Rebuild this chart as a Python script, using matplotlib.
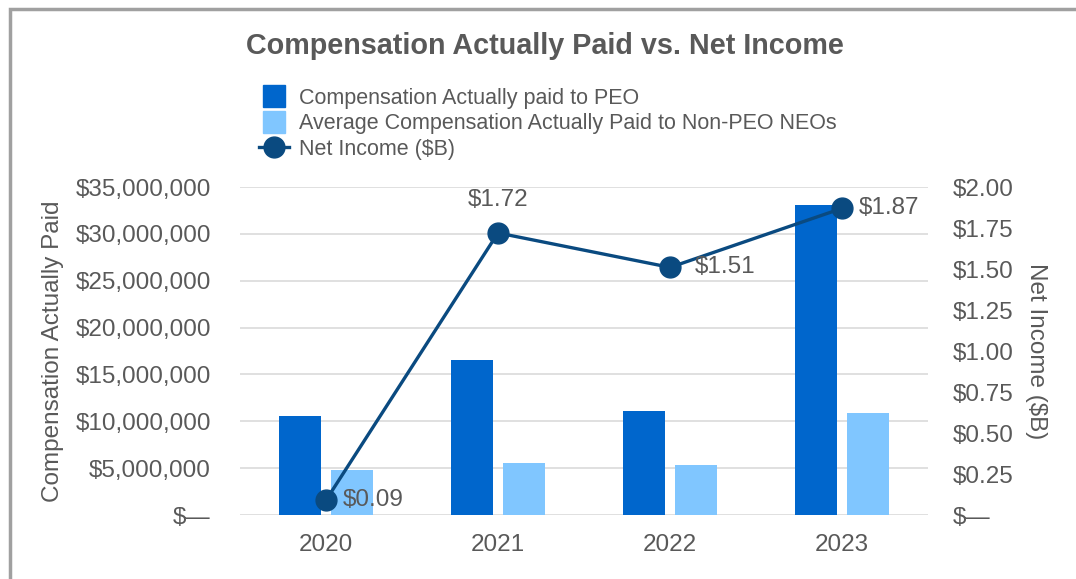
import matplotlib.pyplot as plt
import matplotlib.ticker as mticker
import numpy as np
from matplotlib.lines import Line2D
from matplotlib.patches import Rectangle

years = ['2020', '2021', '2022', '2023']
peo_cap = [10560000, 16500000, 11130000, 33100000]
neo_cap = [4800000, 5580000, 5340000, 10900000]
net_income = [0.09, 1.72, 1.51, 1.87]
net_labels = ['$0.09', '$1.72', '$1.51', '$1.87']

plt.rcParams['font.family'] = ['Liberation Sans', 'DejaVu Sans']
grey = '#595959'
c_peo = '#0066CC'
c_neo = '#80C6FF'
c_line = '#0A4A80'
fs = 17.5

fig = plt.figure(figsize=(10.76, 5.79), dpi=100)
ax = fig.add_axes([0.223, 0.1105, 0.6395, 0.5665])
ax2 = ax.twinx()

x = np.arange(len(years))
w = 0.244
ax.bar(x - 0.151, peo_cap, w, color=c_peo, zorder=2)
ax.bar(x + 0.151, neo_cap, w, color=c_neo, zorder=2)
ax.set_xlim(-0.5, 3.5)
ax.set_ylim(0, 35000000)
ax.set_yticks(np.arange(0, 35000001, 5000000))
ax.yaxis.set_major_formatter(mticker.FuncFormatter(
    lambda v, p: '$—' if v == 0 else f'${v:,.0f}'))
ax.grid(axis='y', color='#E0E0E0', lw=1.4, zorder=0)
ax.set_xticks(x)
ax.set_xticklabels(years)

ax2.plot(x, net_income, color=c_line, lw=2.4, marker='o', ms=15, zorder=3)
ax2.set_ylim(0, 2.0)
ax2.set_yticks(np.arange(0, 2.01, 0.25))
ax2.yaxis.set_major_formatter(mticker.FuncFormatter(
    lambda v, p: '$—' if v == 0 else f'${v:.2f}'))

for a in (ax, ax2):
    for s in a.spines.values():
        s.set_visible(False)
    a.tick_params(length=0, labelsize=fs, labelcolor=grey)
ax.tick_params(axis='x', pad=14)
ax.tick_params(axis='y', pad=21)
ax2.tick_params(axis='y', pad=18)

ax.set_ylabel('Compensation Actually Paid', fontsize=fs, color=grey, labelpad=8)
ax2.set_ylabel('Net Income ($B)', fontsize=fs, color=grey, rotation=270, labelpad=24)

# data labels for net income
offsets = [(12, 0, 'left', 'center'), (0, 16, 'center', 'bottom'),
           (18, 0, 'left', 'center'), (12, 0, 'left', 'center')]
for i, (dx, dy, ha, va) in enumerate(offsets):
    ax2.annotate(net_labels[i], (x[i], net_income[i]), xytext=(dx, dy),
                 textcoords='offset points', ha=ha, va=va, fontsize=fs, color=grey)

fig.text(0.506, 0.921, 'Compensation Actually Paid vs. Net Income',
         ha='center', va='center', fontsize=20.7, fontweight='bold', color=grey)

handles = [Line2D([], [], ls='none', marker='s', ms=16, color=c_peo),
           Line2D([], [], ls='none', marker='s', ms=16, color=c_neo),
           Line2D([], [], color=c_line, lw=2.4, marker='o', ms=15)]
fig.legend(handles, ['Compensation Actually paid to PEO',
                     'Average Compensation Actually Paid to Non-PEO NEOs',
                     'Net Income ($B)'],
           loc='upper left', bbox_to_anchor=(0.233, 0.863), frameon=False,
           fontsize=15.5, labelcolor=grey, handlelength=1.4, handletextpad=0.45,
           labelspacing=0.2, borderaxespad=0)

fig.add_artist(Rectangle((0.009, -0.1), 1.2, 1.085, transform=fig.transFigure,
                         fill=False, ec='#A0A0A0', lw=2.5))

fig.savefig('out.png', dpi=100)
